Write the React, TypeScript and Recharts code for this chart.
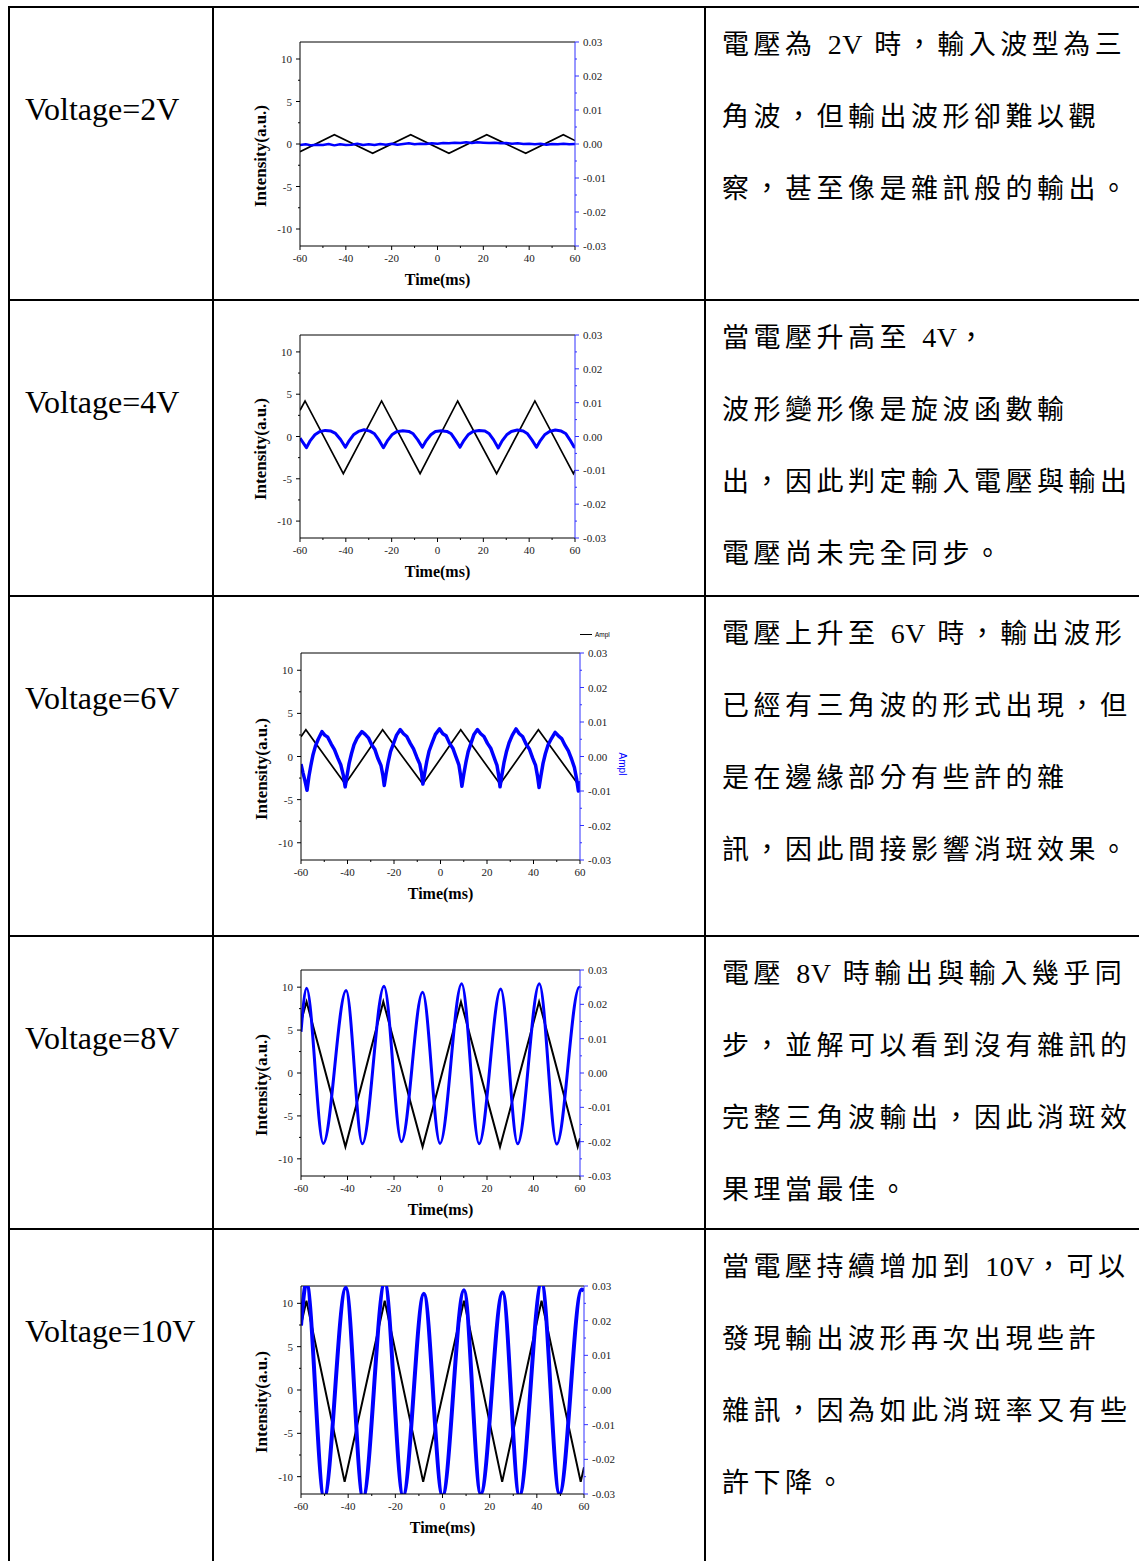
import React from "react";
import { LineChart, Line, XAxis, YAxis, ReferenceLine } from "recharts";

type Pt = [number, number];

const SERIF = '"Liberation Serif", "Times New Roman", serif';
const TEXT_FONT = '"Liberation Serif", "Noto Sans CJK TC", serif';

// axis ticks (majors get labels, the rest are minor marks)
const xTicks = [-60, -50, -40, -30, -20, -10, 0, 10, 20, 30, 40, 50, 60];
const leftTicks = [-10, -7.5, -5, -2.5, 0, 2.5, 5, 7.5, 10];
const rightTicks = [
  -0.03, -0.025, -0.02, -0.015, -0.01, -0.005, 0, 0.005, 0.01, 0.015, 0.02,
  0.025, 0.03,
];

const voltages = [
  "Voltage=2V",
  "Voltage=4V",
  "Voltage=6V",
  "Voltage=8V",
  "Voltage=10V",
];

const notes = [
  ["電壓為 2V 時，輸入波型為三", "角波，但輸出波形卻難以觀", "察，甚至像是雜訊般的輸出。"],
  ["當電壓升高至 4V，", "波形變形像是旋波函數輸", "出，因此判定輸入電壓與輸出", "電壓尚未完全同步。"],
  ["電壓上升至 6V 時，輸出波形", "已經有三角波的形式出現，但", "是在邊緣部分有些許的雜", "訊，因此間接影響消斑效果。"],
  ["電壓 8V 時輸出與輸入幾乎同", "步，並解可以看到沒有雜訊的", "完整三角波輸出，因此消斑效", "果理當最佳。"],
  ["當電壓持續增加到 10V，可以", "發現輸出波形再次出現些許", "雜訊，因為如此消斑率又有些", "許下降。"],
];

// input triangle waves (left axis), [time ms, intensity]
const input2V: Pt[] = [
  [-60, -0.9], [-45, 1.1], [-28.3, -1.1], [-11.7, 1.1], [5, -1.1],
  [21.5, 1.1], [38.5, -1.1], [54.9, 1.1], [60, 0.4],
];
const input4V: Pt[] = [
  [-60, 3.1], [-57.8, 4.2], [-41.1, -4.4], [-24.4, 4.2], [-7.6, -4.4],
  [8.8, 4.2], [25.8, -4.4], [42.5, 4.2], [59.3, -4.4], [60, -4.0],
];
const input6V: Pt[] = [
  [-60, 2.3], [-57.9, 3.1], [-41, -3.2], [-24.9, 3.1], [-7.6, -3.2],
  [8.7, 3.1], [25.6, -3.2], [42.1, 3.1], [59.1, -3.2], [60, -2.9],
];
const input8V: Pt[] = [
  [-60, 6.0], [-57.6, 8.3], [-40.9, -8.6], [-24.6, 8.3], [-7.7, -8.6],
  [8.8, 8.3], [25.6, -8.6], [42.4, 8.3], [59, -8.6], [60, -7.6],
];
const input10V: Pt[] = [
  [-60, 7.5], [-57.7, 10.3], [-41.5, -10.6], [-24.5, 10.3], [-8.2, -10.6],
  [9.1, 10.3], [25.3, -10.6], [42, 10.3], [58.6, -10.6], [60, -8.9],
];

// measured output (right axis), [time ms, Ampl]
const output2V: Pt[] = [
  [-60, -0.0003], [-57.5, -0.0001], [-55, -0.0004], [-52.5, -0.0002], [-50, -0.0003],
  [-47.5, 0.0], [-45, -0.0004], [-42.5, -0.0001], [-40, -0.0003], [-37.5, -0.0002],
  [-35, 0.0001], [-32.5, -0.0003], [-30, -0.0001], [-27.5, -0.0003], [-25, 0.0],
  [-22.5, -0.0002], [-20, 0.0001], [-17.5, -0.0002], [-15, 0.0], [-12.5, 0.0002],
  [-10, -0.0001], [-7.5, 0.0001], [-5, 0.0], [-2.5, 0.0002], [0, 0.0001],
  [2.5, 0.0003], [5, 0.0002], [7.5, 0.0004], [10, 0.0003], [12.5, 0.0005],
  [15, 0.0003], [17.5, 0.0005], [20, 0.0004], [22.5, 0.0003], [25, 0.0004],
  [27.5, 0.0002], [30, 0.0003], [32.5, 0.0001], [35, 0.0002], [37.5, 0.0],
  [40, 0.0001], [42.5, -0.0001], [45, 0.0001], [47.5, -0.0002], [50, 0.0],
  [52.5, -0.0001], [55, 0.0001], [57.5, -0.0001], [60, 0.0],
];
const output4V: Pt[] = [
  [-60, -0.0005], [-57.2, -0.0033], [-55.5, -0.0012], [-53.5, 0.0005], [-51.5, 0.0014],
  [-49, 0.0018], [-46.5, 0.0016], [-44.5, 0.0009], [-42.3, -0.0009], [-40.2, -0.0032],
  [-38.5, -0.0012], [-36.5, 0.0006], [-34.5, 0.0015], [-32, 0.002], [-29.5, 0.0016],
  [-27.5, 0.0008], [-25.6, -0.001], [-23.6, -0.0033], [-21.9, -0.0013], [-19.9, 0.0005],
  [-17.9, 0.0014], [-15.1, 0.0017], [-12.5, 0.0015], [-10.6, 0.0008], [-8.6, -0.001],
  [-6.6, -0.0032], [-4.9, -0.0012], [-2.9, 0.0005], [-0.9, 0.0015], [1.6, 0.0017],
  [4.1, 0.0015], [6, 0.0008], [7.8, -0.001], [9.8, -0.0032], [11.5, -0.0012],
  [13.5, 0.0006], [15.5, 0.0015], [18.1, 0.0018], [20.7, 0.0016], [22.6, 0.0008],
  [24.5, -0.001], [26.5, -0.0034], [28.2, -0.0013], [30.2, 0.0005], [32.2, 0.0015],
  [34.8, 0.0019], [37.4, 0.0016], [39.3, 0.0008], [41.2, -0.001], [43.2, -0.0032],
  [44.9, -0.0012], [46.9, 0.0006], [48.9, 0.0015], [51.4, 0.0019], [54, 0.0016],
  [55.9, 0.0009], [57.7, -0.0009], [59.6, -0.0031], [60, -0.003],
];
const output6V: Pt[] = [
  [-60, -0.0022], [-59.2, -0.0046], [-58.3, -0.007], [-57.4, -0.0098],
  [-56.6, -0.0058], [-55.7, -0.0024], [-54.8, 0.0006], [-53.8, 0.003], [-52.6, 0.005], [-51, 0.0072],
  [-49.8, 0.0062], [-48.5, 0.0056], [-47, 0.0036], [-45.6, 0.002], [-44.2, -0.0004], [-42.9, -0.0024], [-41.8, -0.0054], [-41, -0.0088],
  [-40.2, -0.0056], [-39.3, -0.002], [-38.3, 0.0008], [-37.2, 0.0034], [-35.8, 0.0054], [-33.8, 0.0072],
  [-32.4, 0.0064], [-31, 0.0054], [-29.6, 0.0034], [-28.2, 0.002], [-26.9, -0.0006], [-25.6, -0.0026], [-24.8, -0.0054], [-24.2, -0.0084],
  [-23.4, -0.005], [-22.5, -0.0016], [-21.5, 0.0014], [-20.3, 0.0036], [-18.9, 0.0062], [-17.3, 0.0078],
  [-15.9, 0.0066], [-14.5, 0.0058], [-13, 0.0038], [-11.6, 0.0022], [-10.2, -0.0002], [-8.9, -0.0022], [-8.1, -0.005], [-7.6, -0.008],
  [-6.8, -0.0048], [-5.9, -0.0014], [-4.9, 0.0016], [-3.7, 0.0038], [-2.2, 0.0064], [-0.4, 0.008],
  [1, 0.0066], [2.4, 0.006], [3.9, 0.0038], [5.3, 0.0024], [6.7, -0.0002], [7.9, -0.0024], [8.6, -0.0054], [9.2, -0.0086],
  [10, -0.0052], [10.9, -0.0018], [11.9, 0.0014], [13.1, 0.0038], [14.4, 0.0064], [15.9, 0.0078],
  [17.3, 0.0066], [18.7, 0.0058], [20.2, 0.0038], [21.6, 0.0024], [23, -0.0002], [24.3, -0.0026], [25, -0.0054], [25.6, -0.0088],
  [26.4, -0.0054], [27.3, -0.0018], [28.3, 0.0012], [29.5, 0.004], [30.9, 0.0062], [32.5, 0.008],
  [33.9, 0.0066], [35.3, 0.0058], [36.8, 0.0036], [38.2, 0.0022], [39.6, -0.0004], [40.9, -0.0026], [41.7, -0.0056], [42.4, -0.009],
  [43.2, -0.0056], [44.1, -0.002], [45.1, 0.0008], [46.3, 0.0034], [47.7, 0.0052], [49.3, 0.007],
  [50.7, 0.006], [52.1, 0.0052], [53.6, 0.0032], [55, 0.0016], [56.4, -0.0008], [57.6, -0.0032], [58.5, -0.0064], [59.3, -0.01],
  [60, -0.0072],
];
const output8V: Pt[] = [
  [-60, 0.012], [-57.6, 0.0247], [-50.4, -0.0205], [-40.6, 0.024], [-33.6, -0.0206],
  [-24.3, 0.0253], [-16.8, -0.02], [-7.7, 0.0235], [-0.2, -0.0205], [9.1, 0.026],
  [16.6, -0.0206], [25.9, 0.0245], [33.2, -0.0206], [42.5, 0.026], [50, -0.0207],
  [59.7, 0.025], [60, 0.0248],
];
const output10V: Pt[] = [
  [-60, 0.0186], [-57.7, 0.031], [-50.2, -0.031], [-41, 0.0295], [-33.7, -0.031],
  [-24.5, 0.031], [-16.7, -0.0305], [-7.9, 0.0278], [0, -0.0305], [9.1, 0.0288],
  [16.2, -0.03], [25.5, 0.0282], [32.6, -0.0305], [42, 0.031], [49.6, -0.03],
  [59, 0.029], [60, 0.0286],
];

type Plot = { l: number; r: number; t: number; b: number };
type RowCfg = {
  top: number;
  plot: Plot;
  label: string;
  note: string[];
  input: Pt[];
  output: Pt[];
  blackW: number;
  blueW: number;
  curve: "linear" | "monotone";
  ampl?: boolean;
};

const rows: RowCfg[] = [
  { top: 7, plot: { l: 300, r: 575, t: 42, b: 246 }, label: voltages[0], note: notes[0], input: input2V, output: output2V, blackW: 1.7, blueW: 2.5, curve: "linear" },
  { top: 300, plot: { l: 300, r: 575, t: 335, b: 538 }, label: voltages[1], note: notes[1], input: input4V, output: output4V, blackW: 1.7, blueW: 3, curve: "linear" },
  { top: 596, plot: { l: 301, r: 580, t: 653, b: 860 }, label: voltages[2], note: notes[2], input: input6V, output: output6V, blackW: 1.7, blueW: 3.5, curve: "linear", ampl: true },
  { top: 936, plot: { l: 301, r: 580, t: 970, b: 1176 }, label: voltages[3], note: notes[3], input: input8V, output: output8V, blackW: 2, blueW: 3, curve: "monotone" },
  { top: 1229, plot: { l: 301, r: 584, t: 1286, b: 1494 }, label: voltages[4], note: notes[4], input: input10V, output: output10V, blackW: 2, blueW: 4, curve: "monotone" },
];

const toRows = (pts: Pt[]) => pts.map(([t, v]) => ({ t, v }));

const BLUE = "#0000ff";
const AXIS_BLUE = "#3030ff";

function BottomTick(props: any) {
  const { x, y, payload } = props;
  const v = payload.value;
  const major = v % 20 === 0;
  return (
    <g>
      <line x1={x} x2={x} y1={y} y2={y + (major ? 4 : 2)} stroke="#000" />
      {major && (
        <text x={x} y={y + 16} textAnchor="middle" fontSize={11} fontFamily={SERIF} fill="#222">
          {v}
        </text>
      )}
    </g>
  );
}

function LeftTick(props: any) {
  const { x, y, payload } = props;
  const v = payload.value;
  const major = v % 5 === 0;
  return (
    <g>
      <line x1={x - (major ? 4 : 2)} x2={x} y1={y} y2={y} stroke="#000" />
      {major && (
        <text x={x - 8} y={y + 4} textAnchor="end" fontSize={11} fontFamily={SERIF} fill="#222">
          {v}
        </text>
      )}
    </g>
  );
}

function RightTick(props: any) {
  const { x, y, payload } = props;
  const v = payload.value;
  const major = Math.round(v * 1000) % 10 === 0;
  return (
    <g>
      <line x1={x} x2={x + (major ? 4 : 2)} y1={y} y2={y} stroke={AXIS_BLUE} />
      {major && (
        <text x={x + 8} y={y + 4} textAnchor="start" fontSize={11} fontFamily={SERIF} fill="#222">
          {v.toFixed(2)}
        </text>
      )}
    </g>
  );
}

function WaveChart({ row }: { row: RowCfg }) {
  const { plot } = row;
  const w = plot.r - plot.l;
  const h = plot.b - plot.t;
  return (
    <div style={{ position: "absolute", left: plot.l - 50, top: plot.t - 20 }}>
      <LineChart
        width={w + 110}
        height={h + 70}
        margin={{ top: 20, right: 0, bottom: 0, left: 0 }}
      >
        <XAxis
          type="number"
          dataKey="t"
          domain={[-60, 60]}
          ticks={xTicks}
          interval={0}
          allowDataOverflow
          height={50}
          tickSize={0}
          tickMargin={0}
          tickLine={false}
          axisLine={{ stroke: "#000" }}
          tick={BottomTick}
        />
        <YAxis
          yAxisId="left"
          type="number"
          domain={[-12, 12]}
          ticks={leftTicks}
          interval={0}
          allowDataOverflow
          width={50}
          tickSize={0}
          tickMargin={0}
          tickLine={false}
          axisLine={{ stroke: "#000" }}
          tick={LeftTick}
        />
        <YAxis
          yAxisId="right"
          orientation="right"
          type="number"
          domain={[-0.03, 0.03]}
          ticks={rightTicks}
          interval={0}
          allowDataOverflow
          width={60}
          tickSize={0}
          tickMargin={0}
          tickLine={false}
          axisLine={{ stroke: AXIS_BLUE }}
          tick={RightTick}
        />
        <ReferenceLine yAxisId="left" y={12} stroke="#000" />
        <Line
          yAxisId="left"
          data={toRows(row.input)}
          dataKey="v"
          type="linear"
          stroke="#000"
          strokeWidth={row.blackW}
          dot={false}
          activeDot={false}
          isAnimationActive={false}
        />
        <Line
          yAxisId="right"
          data={toRows(row.output)}
          dataKey="v"
          type={row.curve}
          stroke={BLUE}
          strokeWidth={row.blueW}
          strokeLinejoin="round"
          dot={false}
          activeDot={false}
          isAnimationActive={false}
        />
      </LineChart>
    </div>
  );
}

// latin runs ("2V", "10V") are set without the wide CJK letter spacing
function NoteLine({ text }: { text: string }) {
  const parts = text.split(/([0-9A-Za-z]+)/);
  return (
    <div>
      {parts.map((p, i) =>
        /^[0-9A-Za-z]+$/.test(p) ? (
          <span key={i} style={{ letterSpacing: 0.5, fontSize: 28 }}>
            {p}
          </span>
        ) : (
          <span key={i}>{p}</span>
        )
      )}
    </div>
  );
}

function Row({ row }: { row: RowCfg }) {
  const { plot } = row;
  const midY = (plot.t + plot.b) / 2;
  return (
    <>
      <div
        style={{
          position: "absolute",
          left: 25,
          top: row.top + 86,
          fontFamily: SERIF,
          fontSize: 32,
          lineHeight: "32px",
          whiteSpace: "nowrap",
          color: "#000",
        }}
      >
        {row.label}
      </div>

      <WaveChart row={row} />

      <div
        style={{
          position: "absolute",
          left: plot.l - 39,
          top: midY + 12,
          transform: "translate(-50%, -50%) rotate(-90deg)",
          fontFamily: SERIF,
          fontWeight: 700,
          fontSize: 17,
          whiteSpace: "nowrap",
        }}
      >
        Intensity(a.u.)
      </div>
      <div
        style={{
          position: "absolute",
          left: (plot.l + plot.r) / 2,
          top: plot.b + 34,
          transform: "translate(-50%, -50%)",
          fontFamily: SERIF,
          fontWeight: 700,
          fontSize: 16,
          whiteSpace: "nowrap",
        }}
      >
        Time(ms)
      </div>

      {row.ampl && (
        <>
          <div
            style={{
              position: "absolute",
              left: plot.r,
              top: plot.t - 22,
              display: "flex",
              alignItems: "center",
              fontFamily: '"Liberation Sans", Arial, sans-serif',
              fontSize: 6.5,
              whiteSpace: "nowrap",
            }}
          >
            <span style={{ display: "inline-block", width: 12, height: 0, borderTop: "1.2px solid #000", marginRight: 3 }} />
            Ampl
          </div>
          <div
            style={{
              position: "absolute",
              left: plot.r + 42,
              top: midY + 7,
              transform: "translate(-50%, -50%) rotate(90deg)",
              fontFamily: '"Liberation Sans", Arial, sans-serif',
              fontSize: 10,
              color: BLUE,
              whiteSpace: "nowrap",
            }}
          >
            Ampl
          </div>
        </>
      )}

      <div
        style={{
          position: "absolute",
          left: 722,
          top: row.top + 2,
          fontFamily: TEXT_FONT,
          fontSize: 27,
          letterSpacing: 4.5,
          lineHeight: "72px",
          color: "#000",
          whiteSpace: "pre",
        }}
      >
        {row.note.map((line, i) => (
          <NoteLine key={i} text={line} />
        ))}
      </div>
    </>
  );
}

const hLines = [6, 299, 595, 935, 1228];
const vLines = [8, 212, 704];

export default function App() {
  return (
    <div
      style={{
        position: "absolute",
        left: 0,
        top: 0,
        width: 1139,
        height: 1561,
        background: "#fff",
        overflow: "hidden",
      }}
    >
      {hLines.map((y) => (
        <div key={"h" + y} style={{ position: "absolute", left: 8, top: y, width: 1131, height: 2, background: "#000" }} />
      ))}
      {vLines.map((x) => (
        <div key={"v" + x} style={{ position: "absolute", left: x, top: 6, width: 2, height: 1555, background: "#000" }} />
      ))}
      {rows.map((row, i) => (
        <Row key={i} row={row} />
      ))}
    </div>
  );
}
